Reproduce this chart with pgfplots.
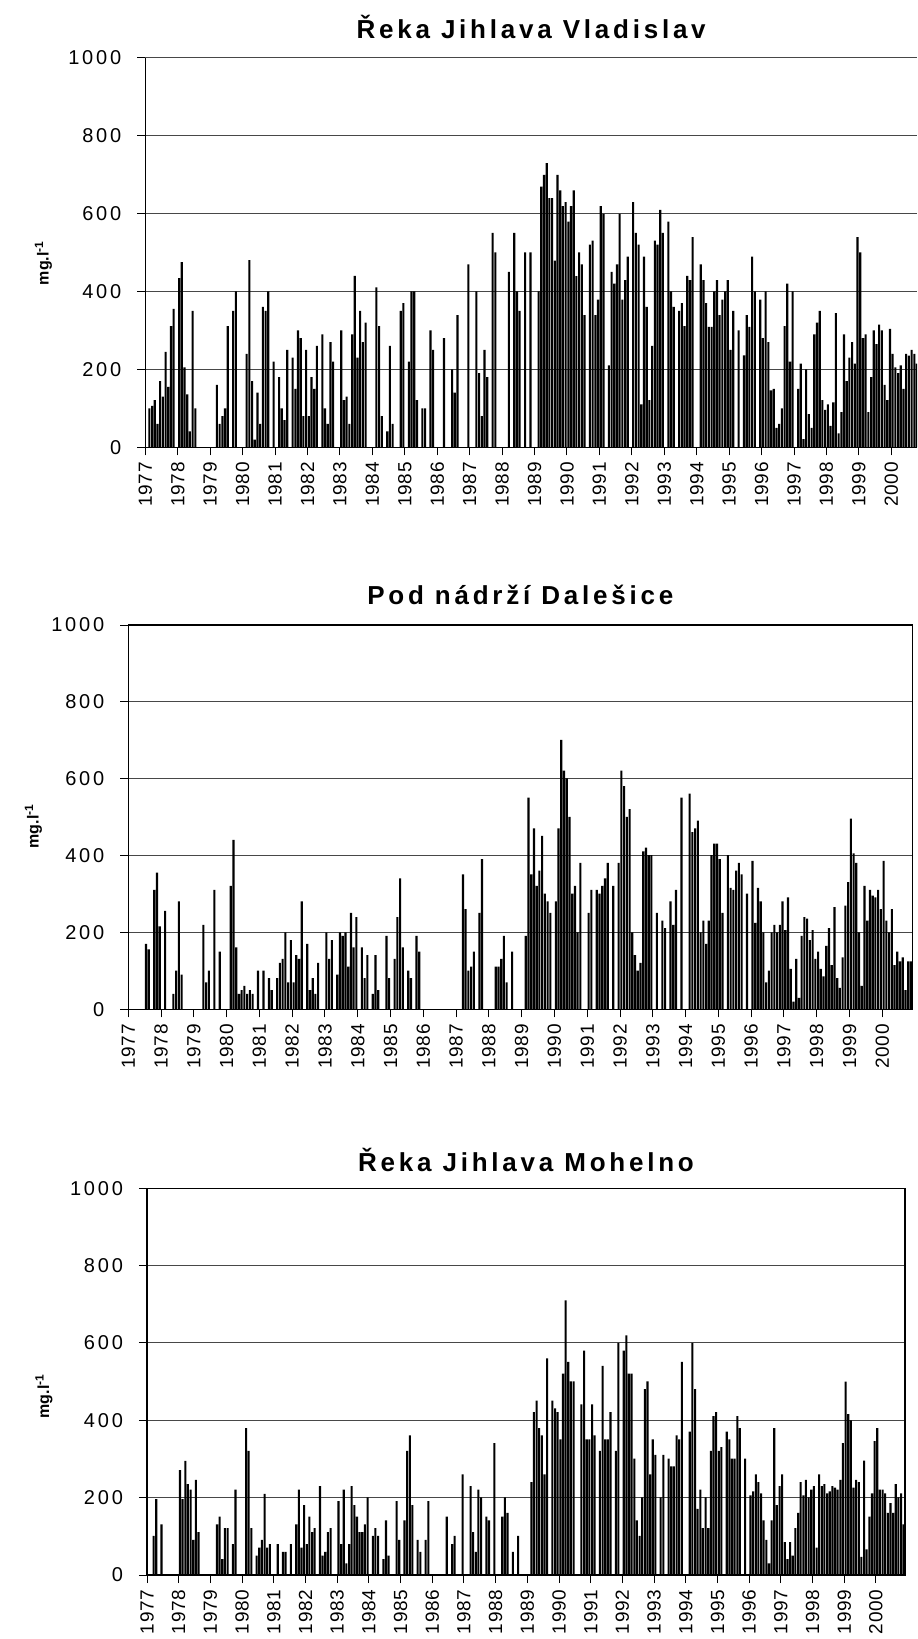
\documentclass[border=0pt]{standalone}
\usepackage{fontspec}
\setmainfont{Liberation Sans}
\newfontfamily\ytickfont{Liberation Sans}[LetterSpace=14]
\newfontfamily\xtickfont{Liberation Sans}[LetterSpace=3]
\newfontfamily\titlefont{Liberation Sans}[LetterSpace=14.5]
\usepackage{pgfplots}
\usepackage{pgfplotstable}
\pgfplotsset{compat=1.18}

% Reka Jihlava Vladislav, monthly values Jan 1977 - Nov 2000
\pgfplotstableread[row sep=\\]{
v\\
0\\ 100\\ 106\\ 121\\ 60\\ 170\\ 130\\ 245\\ 155\\ 311\\ 355\\ 0\\
434\\ 475\\ 205\\ 136\\ 41\\ 350\\ 100\\ 0\\ 0\\ 0\\ 0\\ 0\\
0\\ 0\\ 160\\ 60\\ 80\\ 100\\ 311\\ 0\\ 350\\ 400\\ 0\\ 0\\
0\\ 240\\ 480\\ 170\\ 20\\ 140\\ 60\\ 360\\ 350\\ 400\\ 0\\ 220\\
0\\ 180\\ 100\\ 70\\ 250\\ 0\\ 230\\ 150\\ 300\\ 280\\ 80\\ 250\\
80\\ 180\\ 150\\ 260\\ 0\\ 290\\ 100\\ 60\\ 270\\ 220\\ 0\\ 0\\
300\\ 121\\ 130\\ 60\\ 290\\ 440\\ 230\\ 350\\ 270\\ 320\\ 0\\ 0\\
0\\ 410\\ 311\\ 80\\ 0\\ 41\\ 260\\ 60\\ 0\\ 0\\ 350\\ 370\\
0\\ 220\\ 400\\ 400\\ 121\\ 0\\ 100\\ 100\\ 0\\ 300\\ 250\\ 0\\
0\\ 0\\ 280\\ 0\\ 0\\ 200\\ 140\\ 339\\ 0\\ 0\\ 0\\ 469\\
0\\ 0\\ 400\\ 190\\ 80\\ 250\\ 180\\ 0\\ 550\\ 500\\ 0\\ 0\\
0\\ 0\\ 450\\ 0\\ 550\\ 400\\ 350\\ 0\\ 500\\ 0\\ 500\\ 0\\
0\\ 400\\ 669\\ 699\\ 729\\ 639\\ 639\\ 479\\ 699\\ 659\\ 619\\ 629\\
579\\ 619\\ 659\\ 439\\ 500\\ 469\\ 339\\ 0\\ 520\\ 530\\ 339\\ 379\\
619\\ 599\\ 0\\ 210\\ 450\\ 420\\ 469\\ 599\\ 379\\ 429\\ 489\\ 0\\
629\\ 550\\ 520\\ 110\\ 489\\ 360\\ 121\\ 260\\ 530\\ 520\\ 609\\ 550\\
0\\ 579\\ 400\\ 360\\ 0\\ 350\\ 370\\ 311\\ 440\\ 429\\ 539\\ 0\\
0\\ 469\\ 429\\ 370\\ 309\\ 309\\ 400\\ 429\\ 339\\ 379\\ 400\\ 429\\
250\\ 350\\ 0\\ 300\\ 0\\ 236\\ 339\\ 309\\ 489\\ 400\\ 0\\ 379\\
280\\ 400\\ 270\\ 146\\ 150\\ 50\\ 60\\ 100\\ 311\\ 420\\ 220\\ 400\\
0\\ 150\\ 215\\ 21\\ 200\\ 85\\ 50\\ 290\\ 320\\ 350\\ 121\\ 96\\
110\\ 55\\ 115\\ 344\\ 36\\ 90\\ 290\\ 170\\ 230\\ 270\\ 215\\ 539\\
500\\ 280\\ 290\\ 90\\ 180\\ 300\\ 265\\ 315\\ 300\\ 160\\ 121\\ 304\\
240\\ 205\\ 190\\ 210\\ 150\\ 240\\ 235\\ 250\\ 240\\ 215\\ 200\\
}\dataA

% Pod nadrzi Dalesice
\pgfplotstableread[row sep=\\]{
v\\
0\\ 0\\ 0\\ 0\\ 0\\ 0\\ 170\\ 156\\ 0\\ 311\\ 356\\ 216\\
0\\ 256\\ 0\\ 0\\ 40\\ 101\\ 281\\ 90\\ 0\\ 0\\ 0\\ 0\\
0\\ 0\\ 0\\ 220\\ 70\\ 101\\ 0\\ 311\\ 0\\ 150\\ 0\\ 0\\
0\\ 321\\ 441\\ 161\\ 40\\ 50\\ 61\\ 40\\ 50\\ 40\\ 0\\ 101\\
0\\ 101\\ 0\\ 81\\ 50\\ 0\\ 81\\ 121\\ 131\\ 200\\ 70\\ 180\\
70\\ 141\\ 131\\ 281\\ 0\\ 170\\ 50\\ 81\\ 40\\ 121\\ 0\\ 0\\
200\\ 131\\ 180\\ 0\\ 90\\ 200\\ 191\\ 200\\ 111\\ 251\\ 161\\ 240\\
0\\ 161\\ 81\\ 141\\ 0\\ 40\\ 141\\ 50\\ 0\\ 0\\ 191\\ 81\\
0\\ 131\\ 240\\ 341\\ 161\\ 0\\ 101\\ 81\\ 0\\ 191\\ 150\\ 0\\
0\\ 0\\ 0\\ 0\\ 0\\ 0\\ 0\\ 0\\ 0\\ 0\\ 0\\ 0\\
0\\ 0\\ 351\\ 261\\ 101\\ 111\\ 150\\ 0\\ 251\\ 391\\ 0\\ 0\\
0\\ 0\\ 111\\ 111\\ 131\\ 191\\ 70\\ 0\\ 150\\ 0\\ 0\\ 0\\
0\\ 191\\ 551\\ 351\\ 471\\ 321\\ 361\\ 451\\ 301\\ 281\\ 251\\ 0\\
281\\ 471\\ 701\\ 621\\ 601\\ 501\\ 301\\ 321\\ 200\\ 381\\ 0\\ 0\\
251\\ 311\\ 0\\ 311\\ 301\\ 321\\ 341\\ 381\\ 0\\ 321\\ 0\\ 381\\
621\\ 581\\ 501\\ 521\\ 200\\ 141\\ 101\\ 121\\ 411\\ 421\\ 401\\ 401\\
0\\ 251\\ 0\\ 231\\ 211\\ 0\\ 281\\ 220\\ 311\\ 0\\ 551\\ 0\\
0\\ 561\\ 461\\ 471\\ 491\\ 200\\ 231\\ 170\\ 231\\ 401\\ 431\\ 431\\
391\\ 251\\ 0\\ 401\\ 316\\ 311\\ 361\\ 381\\ 351\\ 0\\ 301\\ 0\\
386\\ 225\\ 316\\ 281\\ 200\\ 70\\ 101\\ 200\\ 220\\ 200\\ 220\\ 281\\
206\\ 291\\ 105\\ 20\\ 131\\ 30\\ 191\\ 240\\ 236\\ 180\\ 206\\ 131\\
150\\ 105\\ 86\\ 165\\ 211\\ 115\\ 266\\ 81\\ 56\\ 135\\ 270\\ 331\\
496\\ 406\\ 381\\ 200\\ 61\\ 321\\ 231\\ 311\\ 296\\ 291\\ 311\\ 261\\
386\\ 231\\ 200\\ 261\\ 115\\ 150\\ 125\\ 135\\ 50\\ 125\\ 125\\
}\dataB

% Reka Jihlava Mohelno
\pgfplotstableread[row sep=\\]{
v\\
0\\ 0\\ 101\\ 196\\ 0\\ 131\\ 0\\ 0\\ 0\\ 0\\ 0\\ 0\\
271\\ 196\\ 295\\ 235\\ 221\\ 91\\ 246\\ 111\\ 0\\ 0\\ 0\\ 0\\
0\\ 0\\ 131\\ 151\\ 41\\ 121\\ 121\\ 0\\ 80\\ 221\\ 0\\ 0\\
0\\ 380\\ 321\\ 121\\ 0\\ 50\\ 71\\ 91\\ 210\\ 71\\ 80\\ 0\\
0\\ 80\\ 0\\ 60\\ 60\\ 0\\ 80\\ 0\\ 131\\ 221\\ 71\\ 181\\
80\\ 151\\ 111\\ 121\\ 0\\ 230\\ 50\\ 60\\ 111\\ 121\\ 0\\ 0\\
191\\ 80\\ 221\\ 30\\ 80\\ 230\\ 181\\ 151\\ 111\\ 111\\ 131\\ 201\\
0\\ 101\\ 121\\ 101\\ 0\\ 41\\ 141\\ 50\\ 0\\ 0\\ 191\\ 91\\
0\\ 141\\ 321\\ 361\\ 181\\ 0\\ 91\\ 60\\ 0\\ 91\\ 191\\ 0\\
0\\ 0\\ 0\\ 0\\ 0\\ 151\\ 0\\ 80\\ 101\\ 0\\ 0\\ 260\\
0\\ 0\\ 230\\ 111\\ 60\\ 221\\ 201\\ 0\\ 151\\ 141\\ 0\\ 341\\
0\\ 0\\ 151\\ 201\\ 161\\ 0\\ 60\\ 0\\ 101\\ 0\\ 0\\ 0\\
0\\ 240\\ 421\\ 451\\ 380\\ 361\\ 260\\ 560\\ 0\\ 451\\ 431\\ 421\\
351\\ 521\\ 710\\ 551\\ 501\\ 501\\ 0\\ 0\\ 441\\ 580\\ 351\\ 351\\
441\\ 361\\ 0\\ 321\\ 541\\ 351\\ 351\\ 421\\ 0\\ 321\\ 600\\ 0\\
580\\ 620\\ 521\\ 521\\ 301\\ 141\\ 101\\ 201\\ 481\\ 501\\ 260\\ 351\\
311\\ 0\\ 201\\ 311\\ 0\\ 301\\ 281\\ 281\\ 361\\ 351\\ 551\\ 0\\
0\\ 371\\ 600\\ 481\\ 171\\ 221\\ 121\\ 201\\ 121\\ 321\\ 411\\ 421\\
321\\ 331\\ 0\\ 371\\ 351\\ 301\\ 301\\ 411\\ 380\\ 0\\ 301\\ 0\\
206\\ 216\\ 260\\ 240\\ 211\\ 141\\ 91\\ 30\\ 141\\ 380\\ 181\\ 230\\
260\\ 85\\ 41\\ 85\\ 50\\ 121\\ 161\\ 240\\ 206\\ 246\\ 201\\ 221\\
230\\ 71\\ 260\\ 230\\ 235\\ 211\\ 216\\ 230\\ 226\\ 221\\ 246\\ 341\\
500\\ 416\\ 400\\ 226\\ 246\\ 240\\ 47\\ 296\\ 66\\ 151\\ 211\\ 346\\
380\\ 221\\ 221\\ 211\\ 161\\ 186\\ 161\\ 235\\ 201\\ 211\\ 131\\
}\dataC

\pgfplotsset{
  myaxis/.style={
    scale only axis,
    ymin=0, ymax=1000, ytick={0,200,...,1000},
    xmin=0, xmax=287,
    xtick={0,12,...,276},
    xticklabels={1977,1978,1979,1980,1981,1982,1983,1984,1985,1986,1987,1988,1989,1990,1991,1992,1993,1994,1995,1996,1997,1998,1999,2000},
    ymajorgrids,
    grid style={line width=0.5pt, color=black!72},
    axis line style={line width=0.6pt, black},
    tick style={black, line width=0.5pt},
    major tick length=4pt,
    yticklabel style={font=\ytickfont\fontsize{10}{12}\selectfont, xshift=-4.5pt},
    xticklabel style={font=\xtickfont\fontsize{9.5}{11}\selectfont, rotate=90, anchor=east},
    /pgf/number format/assume math mode=true,
    /pgf/number format/1000 sep={},
    ylabel={\bfseries mg.l\textsuperscript{-1}},
    ybar, bar width=0.78,
  },
  ttl/.style={every axis title/.style={at={(0.5,1)}, anchor=base, yshift=#1,
    font=\titlefont\bfseries\fontsize{13}{15}\selectfont}},
}

\begin{document}
\begin{tikzpicture}
\useasboundingbox (0pt,0pt) rectangle (458.5pt,-819.5pt);

\begin{axis}[myaxis,
  at={(72.65pt,-28.75pt)}, anchor=north west,
  width=385.85pt, height=194.9pt, xmax=285.5,
  axis x line*=bottom, axis y line*=left,
  tick align=outside,
  ylabel style={at={(rel axis cs:-0.132,0.473)}, anchor=center, font=\fontsize{8}{10}\selectfont},
  ttl=9.6pt,
  title={Řeka Jihlava Vladislav}]
\addplot[fill=black, draw=none] table[x expr=\coordindex+0.5, y=v]{\dataA};
\end{axis}

\begin{axis}[myaxis,
  at={(64.15pt,-312.5pt)}, anchor=north west,
  width=392pt, height=192.15pt,
  tick align=outside, xtick pos=left, ytick pos=left,
  ylabel style={at={(rel axis cs:-0.121,0.477)}, anchor=center, font=\fontsize{8}{10}\selectfont},
  ttl=10.3pt,
  title={Pod nádrží Dalešice}]
\addplot[fill=black, draw=none] table[x expr=\coordindex+0.5, y=v]{\dataB};
\end{axis}

\begin{axis}[myaxis,
  at={(73.5pt,-594.15pt)}, anchor=north west,
  width=379pt, height=193.35pt,
  tick align=outside, xtick pos=left, ytick pos=left,
  ylabel style={at={(rel axis cs:-0.136,0.463)}, anchor=center, font=\fontsize{8}{10}\selectfont},
  ttl=8.6pt,
  title={Řeka Jihlava Mohelno}]
\addplot[fill=black, draw=none] table[x expr=\coordindex+0.5, y=v]{\dataC};
\end{axis}
\end{tikzpicture}
\end{document}
